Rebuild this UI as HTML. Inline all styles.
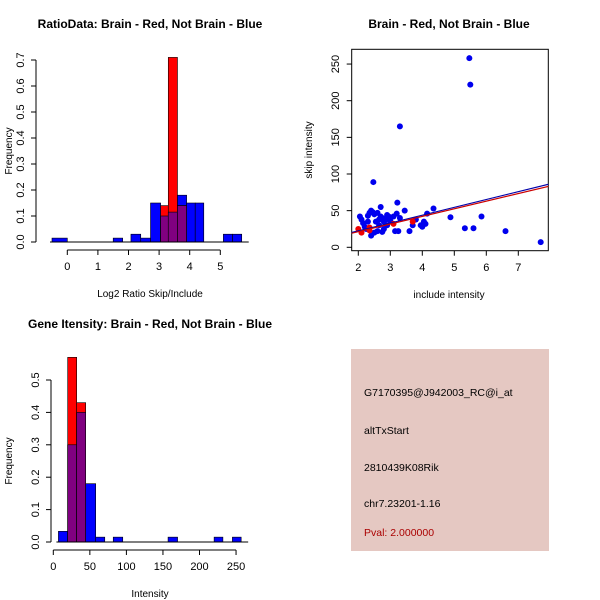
<!DOCTYPE html>
<html><head><meta charset="utf-8"><style>
body{margin:0;background:#fff}
svg{display:block;font-family:"Liberation Sans",sans-serif}
</style></head><body>
<svg id="c" width="600" height="600" xmlns="http://www.w3.org/2000/svg"></svg>
<script>
// Panel 1: ratio histogram
const ratioEdges=[-0.5,0.0,1.5,1.81,2.08,2.40,2.72,3.05,3.30,3.60,3.90,4.18,4.46,5.10,5.40,5.70];
const ratioBlue=[0.015,0,0.015,0,0.03,0.015,0.15,0.10,0.115,0.18,0.15,0.15,0,0.03,0.03];
const ratioRed=[0,0,0,0,0,0,0,0.14,0.71,0.14,0,0,0,0,0];
const ratioYTicks=[0,0.1,0.2,0.3,0.4,0.5,0.6,0.7];
const ratioXTicks=[0,1,2,3,4,5];
// Panel 2: scatter
const blueX=[3.3,5.47,5.5,2.47,3.22,2.7,3.45,4.35,4.88,5.85,5.33,5.6,6.6,7.7,2.05,2.1,2.15,2.2,2.3,2.3,2.35,2.4,2.45,2.5,2.55,2.6,2.65,2.7,2.75,2.8,2.85,2.9,2.95,2.9,2.6,2.5,2.4,2.75,2.8,3.0,3.1,3.15,3.2,3.25,3.3,3.6,3.7,3.8,3.95,4.0,4.05,4.1,4.15,2.25,2.65];
const blueY=[165,258,222,89,61,55,50,53,41,42,26,26,22,7,42,38,33,28,35,43,47,50,48,45,35,47,38,42,40,35,38,44,42,30,22,20,16,21,25,36,42,22,46,22,40,22,30,38,30,28,35,32,46,25,30];
const redX=[2.0,2.1,2.35,2.35,3.1,3.7];
const redY=[25,20,27,23,32,35];
const fitBlue=[1.0,10.7]; // intercept, slope
const fitRed=[0.5,10.4];
const scXTicks=[2,3,4,5,6,7];
const scYTicks=[0,50,100,150,200,250];
// Panel 3: intensity histogram
const intEdges=[7,19.7,32,44.3,58,70.4,82,95,157,170,220,232,245,257];
const intBlue=[0.033,0.30,0.40,0.18,0.015,0,0.015,0,0.015,0,0.015,0,0.015];
const intRed=[0,0.57,0.43,0,0,0,0,0,0,0,0,0,0];
const intYTicks=[0,0.1,0.2,0.3,0.4,0.5];
const intXTicks=[0,50,100,150,200,250];

const svg=document.getElementById('c');
const NS='http://www.w3.org/2000/svg';
function mk(tag,a,parent){const e=document.createElementNS(NS,tag);for(const k in a)e.setAttribute(k,a[k]);(parent||svg).appendChild(e);return e;}
function txt(s,x,y,a,parent){const t=mk('text',Object.assign({x:x,y:y,'font-size':11,'text-anchor':'middle',fill:'#000'},a),parent);t.textContent=s;return t;}

function panel(name){const g=mk('g',{});return g;}

function hist(name,edges,blue,red,sx,sy,y0,xTicks,yTicks,axisY,yAxX,title,titleX,titleY,xlab,ylabX,xlabY,fmtY){
  const g=panel(name);
  const t=txt(title,titleX,titleY,{'font-weight':'bold','font-size':12},g);
  
  for(let i=0;i<blue.length;i++){
    const x1=sx(edges[i]),x2=sx(edges[i+1]);
    const b=blue[i],r=red[i];
    if(b>0){const e=mk('rect',{x:x1,y:sy(b),width:x2-x1,height:y0-sy(b),fill:'#0000ff',stroke:'#000','stroke-width':0.6},g);
      }
    if(r>0){const e=mk('rect',{x:x1,y:sy(r),width:x2-x1,height:y0-sy(r),fill:'#ff0000',stroke:'#000','stroke-width':0.6},g);
      }
    const m=Math.min(b,r);
    if(m>0){const e=mk('rect',{x:x1,y:sy(m),width:x2-x1,height:y0-sy(m),fill:'#800080',stroke:'#000','stroke-width':0.6},g);
      }
  }
  mk('line',{x1:sx(edges[0])-2,x2:sx(edges[edges.length-1])+7,y1:y0,y2:y0,stroke:'#000'},g);
  const xa=mk('g',{},g);
  mk('line',{x1:sx(xTicks[0]),x2:sx(xTicks[xTicks.length-1]),y1:axisY,y2:axisY,stroke:'#000'},xa);
  xTicks.forEach(v=>{mk('line',{x1:sx(v),x2:sx(v),y1:axisY,y2:axisY+5,stroke:'#000'},xa);txt(String(v),sx(v),axisY+20,{},xa);});
  const ya=mk('g',{},g);
  mk('line',{x1:yAxX,x2:yAxX,y1:sy(yTicks[0]),y2:sy(yTicks[yTicks.length-1]),stroke:'#000'},ya);
  yTicks.forEach(v=>{mk('line',{x1:yAxX,x2:yAxX-5,y1:sy(v),y2:sy(v),stroke:'#000'},ya);
    txt(fmtY(v),yAxX-12,sy(v),{transform:`rotate(-90 ${yAxX-12} ${sy(v)})`},ya);});
  const xl=txt(xlab,titleX,xlabY,{'font-size':10},g);
  const my=(sy(yTicks[0])+sy(yTicks[yTicks.length-1]))/2;
  const yl=txt('Frequency',ylabX,my,{'font-size':10,transform:`rotate(-90 ${ylabX} ${my})`},g);
  
}
const sx1=v=>67.3+v*30.6, sy1=v=>242-v*260;
hist('ratio-histogram',ratioEdges,ratioBlue,ratioRed,sx1,sy1,242,ratioXTicks,ratioYTicks,250,36,'RatioData: Brain - Red, Not Brain - Blue',150,28,'Log2 Ratio Skip/Include',12,297,v=>v.toFixed(1));
const sx3=v=>53.3+v*0.731, sy3=v=>542-v*324;
hist('intensity-histogram',intEdges,intBlue,intRed,sx3,sy3,542,intXTicks,intYTicks,550,51,'Gene Itensity: Brain - Red, Not Brain - Blue',150,328,'Intensity',12,597,v=>v.toFixed(1));

// scatter
const g2=panel('scatter-plot');
const sx2=v=>358.3+(v-2)*32, sy2=v=>247.3-v*0.733;
const t2=txt('Brain - Red, Not Brain - Blue',449,28,{'font-weight':'bold','font-size':12},g2);

mk('rect',{x:351.7,y:49.3,width:196.6,height:201.4,fill:'none',stroke:'#000'},g2);
const xa2=mk('g',{},g2);
scXTicks.forEach(v=>{mk('line',{x1:sx2(v),x2:sx2(v),y1:250.7,y2:255.7,stroke:'#000'},xa2);txt(String(v),sx2(v),271,{},xa2);});
const ya2=mk('g',{},g2);
scYTicks.forEach(v=>{mk('line',{x1:351.7,x2:346.7,y1:sy2(v),y2:sy2(v),stroke:'#000'},ya2);txt(String(v),339,sy2(v),{transform:`rotate(-90 339 ${sy2(v)})`},ya2);});
const xl2=txt('include intensity',449,298,{'font-size':10},g2);
const yl2=txt('skip intensity',312,150,{'font-size':10,transform:'rotate(-90 312 150)'},g2);
const clip=mk('clipPath',{id:'cp'},g2);mk('rect',{x:351.7,y:49.3,width:196.6,height:201.4},clip);
blueX.forEach((x,i)=>{const c=mk('circle',{cx:sx2(x),cy:sy2(blueY[i]),r:3,fill:'#0000ee'},g2);
  });
redX.forEach((x,i)=>{const c=mk('circle',{cx:sx2(x),cy:sy2(redY[i]),r:3,fill:'#ee0000'},g2);
  });
[[fitBlue,'#0000aa','blue-fit-line'],[fitRed,'#cc0000','red-fit-line']].forEach(([f,col,nm])=>{
  const l=mk('line',{x1:sx2(1.7),y1:sy2(f[0]+f[1]*1.7),x2:sx2(8),y2:sy2(f[0]+f[1]*8),stroke:col,'stroke-width':1.2,'clip-path':'url(#cp)'},g2);
  });

// info box
const g4=panel('info-box');
mk('rect',{x:351,y:349,width:198,height:202,fill:'#e5c8c2'},g4);
const lines=['G7170395@J942003_RC@i_at','altTxStart','2810439K08Rik','chr7.23201-1.16'];
const ly=[396,434,471,507];
lines.forEach((s,i)=>{const t=txt(s,364,ly[i],{'text-anchor':'start','font-size':10.5},g4);});
const pv=txt('Pval: 2.000000',364,536,{'text-anchor':'start','font-size':10.5,fill:'#aa0000'},g4);

</script>
</body></html>
